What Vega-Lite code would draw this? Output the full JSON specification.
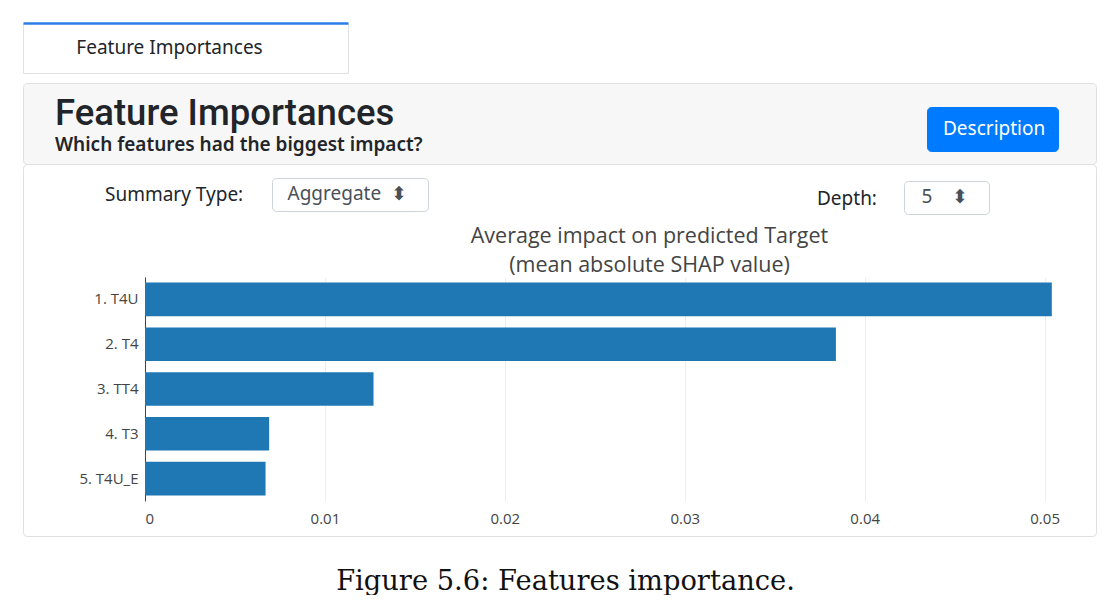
{
  "$schema": "https://vega.github.io/schema/vega-lite/v6.json",
  "background": "white",
  "padding": {"left": 22, "top": 22, "right": 13, "bottom": 0},
  "bounds": "flush",
  "spacing": 10,
  "title": {"text": "Figure 5.6: Features importance.", "orient": "bottom", "anchor": "middle", "font": "DejaVu Serif", "fontSize": 27.3, "fontWeight": "normal", "color": "#111111", "offset": 31, "dx": 6},
  "config": {"view": {"stroke": null}},
  "vconcat": [
    {
      "width": 325,
      "height": 50,
      "view": {"stroke": "#dee2e6", "fill": "white"},
      "data": {"values": [{"tab": "Feature Importances"}]},
      "mark": {"type": "text", "font": "Noto Sans", "fontSize": 19, "color": "#212529", "dx": -16},
      "encoding": {
        "text": {"field": "tab", "type": "nominal"},
        "x": {"field": "tab", "type": "nominal", "axis": {"title": null, "orient": "top", "labels": false, "ticks": false, "domainColor": "#2b7de9", "domainWidth": 2.5, "grid": false}}
      }
    },
    {
      "spacing": 0,
      "bounds": "flush",
      "vconcat": [
        {
          "width": 1073,
          "height": 81,
          "view": {"fill": "#f7f7f7", "stroke": "#dfdfdf", "cornerRadius": 4},
          "title": {"text": "Feature Importances", "subtitle": "Which features had the biggest impact?", "anchor": "start", "frame": "group", "offset": -72, "dx": 32, "font": "Roboto", "fontSize": 36.5, "fontWeight": 500, "color": "#212529", "subtitleFont": "Noto Sans", "subtitleFontSize": 19, "subtitleFontWeight": 600, "subtitleColor": "#212529", "subtitlePadding": 4},
          "data": {"values": [{"button": "Description"}]},
          "mark": {"type": "point", "opacity": 0},
          "encoding": {
            "fill": {"field": "button", "type": "nominal", "scale": {"range": ["#007bff"]},
              "legend": {"title": null, "orient": "none", "legendX": 904, "legendY": 84, "fillColor": "#007bff", "strokeColor": "#007bff", "cornerRadius": 4, "padding": 12, "symbolOpacity": 0, "symbolSize": 0, "labelOffset": -15, "labelColor": "white", "labelFont": "Noto Sans", "labelFontSize": 19, "labelLimit": 0, "labelExpr": "datum.label + '\u00a0'"}}
          }
        },
        {
          "width": 1073,
          "height": 372,
          "view": {"fill": "white", "stroke": "#dfdfdf", "cornerRadius": 4},
          "title": {"text": ["Average impact on predicted Target", "(mean absolute SHAP value)"], "anchor": "middle", "frame": "group", "offset": -112, "dx": 90, "font": "Open Sans", "fontSize": 21.5, "fontWeight": "normal", "color": "#444444", "lineHeight": 29},
          "resolve": {"axis": {"x": "independent"}},
          "layer": [
            {
              "data": {"name": "bars", "values": [
                {"feature": "1. T4U", "importance": 0.0504},
                {"feature": "2. T4", "importance": 0.0384},
                {"feature": "3. TT4", "importance": 0.0127},
                {"feature": "4. T3", "importance": 0.0069},
                {"feature": "5. T4U_E", "importance": 0.0067}
              ]},
              "mark": {"type": "bar", "opacity": 0},
              "encoding": {
                "y": {"field": "feature", "type": "nominal", "sort": null,
                  "scale": {"range": [113, 337], "paddingInner": 0.25, "paddingOuter": 0.125},
                  "axis": {"title": null, "offset": -122, "domainColor": "#444444", "ticks": false, "labelPadding": 7, "labelFont": "Open Sans", "labelFontSize": 15, "labelColor": "#444444", "grid": false}},
                "x": {"field": "importance", "type": "quantitative",
                  "scale": {"domain": [0, 0.0513], "range": [122, 1045], "nice": false, "zero": true},
                  "axis": {"title": null, "orient": "top", "offset": 0, "domain": false, "ticks": false, "labels": false, "values": [0, 0.01, 0.02, 0.03, 0.04, 0.05], "grid": true, "gridColor": "#eeeeee", "gridWidth": 1}}
              }
            },
            {
              "data": {"name": "bars"},
              "mark": {"type": "bar", "color": "#1f77b4"},
              "encoding": {
                "y": {"field": "feature", "type": "nominal", "sort": null},
                "x": {"field": "importance", "type": "quantitative",
                  "axis": {"title": null, "orient": "bottom", "offset": -35, "domain": false, "ticks": false, "values": [0, 0.01, 0.02, 0.03, 0.04, 0.05], "format": "~g", "labelPadding": 10, "labelFont": "Open Sans", "labelFontSize": 15, "labelColor": "#444444", "grid": false}}
              }
            },
            {
              "data": {"values": [
                {"label1": "Summary Type:", "summary": "Aggregate", "label2": "Depth:", "depth": "5"}
              ]},
              "mark": {"type": "point", "opacity": 0},
              "encoding": {
                "shape": {"field": "label1", "type": "nominal",
                  "legend": {"title": null, "orient": "none", "legendX": 63, "legendY": 162, "symbolOpacity": 0, "symbolSize": 0, "labelOffset": 0, "labelFont": "Noto Sans", "labelFontSize": 19, "labelColor": "#212529", "labelLimit": 0, "padding": 0}},
                "color": {"field": "label2", "type": "nominal", "scale": {"range": ["#ffffff"]},
                  "legend": {"title": null, "orient": "none", "legendX": 775, "legendY": 166, "symbolOpacity": 0, "symbolSize": 0, "labelOffset": 0, "labelFont": "Noto Sans", "labelFontSize": 19, "labelColor": "#212529", "labelLimit": 0, "padding": 0}},
                "strokeWidth": {"field": "summary", "type": "nominal",
                  "legend": {"title": null, "orient": "none", "legendX": 249, "legendY": 155, "fillColor": "white", "strokeColor": "#ced4da", "cornerRadius": 4, "padding": 6.5, "symbolOpacity": 0, "symbolSize": 0, "labelOffset": -10, "labelFont": "Noto Sans", "labelFontSize": 19, "labelColor": "#495057", "labelLimit": 0, "labelExpr": "'\u00a0\u00a0' + datum.label + '\u00a0\u00a0⬍\u2800'"}},
                "strokeDash": {"field": "depth", "type": "nominal",
                  "legend": {"title": null, "orient": "none", "legendX": 881, "legendY": 158, "fillColor": "white", "strokeColor": "#ced4da", "cornerRadius": 4, "padding": 6.5, "symbolOpacity": 0, "symbolSize": 0, "labelOffset": -8, "labelFont": "Noto Sans", "labelFontSize": 19, "labelColor": "#495057", "labelLimit": 0, "labelExpr": "'\u00a0\u00a0\u00a0' + datum.label + '\u00a0\u00a0\u00a0\u00a0⬍\u2800'"}}
              }
            }
          ]
        }
      ]
    }
  ]
}
